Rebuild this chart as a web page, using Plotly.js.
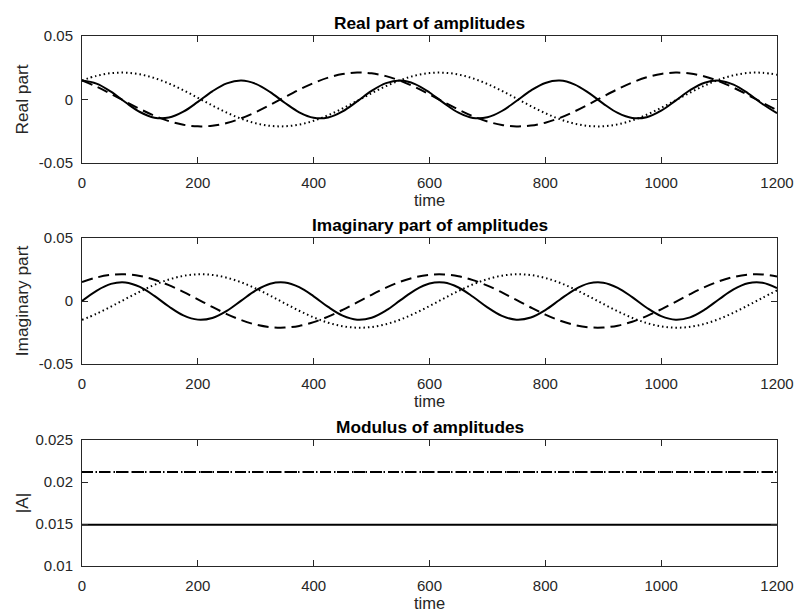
<!DOCTYPE html>
<html>
<head>
<meta charset="utf-8">
<script src="https://cdn.plot.ly/plotly-3.0.1.min.js"></script>
<style>html,body{margin:0;padding:0;background:#fff;}#chart{width:796px;height:616px;}</style>
</head>
<body>
<div id="chart"></div>
<script>
// ---- data ----
const times = [0,25,50,75,100,125,150,175,200,225,250,275,300,325,350,375,400,425,450,475,500,525,550,575,600,625,650,675,700,725,750,775,800,825,850,875,900,925,950,975,1000,1025,1050,1075,1100,1125,1150,1175,1200];

const realSolid = [0.0149,0.01252,0.00613,-0.00221,-0.00985,-0.01434,-0.01424,-0.00959,-0.00188,0.00644,0.01270,0.01490,0.01233,0.00582,-0.00255,-0.01011,-0.01443,-0.01414,-0.00933,-0.00153,0.00675,0.01288,0.01488,0.01213,0.00550,-0.00289,-0.01036,-0.01451,-0.01403,-0.00906,-0.00120,0.00705,0.01304,0.01486,0.01193,0.00519,-0.00322,-0.01060,-0.01458,-0.01391,-0.00879,-0.00085,0.00735,0.01321,0.01484,0.01172,0.00486,-0.00355,-0.01084];
const realDashed = [0.01499,0.01014,0.00446,-0.00158,-0.00749,-0.01279,-0.01705,-0.01992,-0.02116,-0.02067,-0.01850,-0.01482,-0.00993,-0.00423,0.00182,0.00772,0.01299,0.01720,0.02000,0.02117,0.02062,0.01838,0.01465,0.00971,0.00399,-0.00206,-0.00795,-0.01318,-0.01734,-0.02008,-0.02118,-0.02056,-0.01826,-0.01446,-0.00949,-0.00375,0.00230,0.00817,0.01338,0.01747,0.02016,0.02119,0.02050,0.01813,0.01429,0.00928,0.00351,-0.00254,-0.00839];
const realDotted = [0.01499,0.01862,0.02073,0.02114,0.01983,0.01690,0.01260,0.00727,0.00134,-0.00470,-0.01035,-0.01516,-0.01873,-0.02077,-0.02112,-0.01975,-0.01676,-0.01240,-0.00703,-0.00109,0.00494,0.01056,0.01533,0.01884,0.02082,0.02110,0.01965,0.01660,0.01220,0.00681,0.00085,-0.00517,-0.01078,-0.01550,-0.01896,-0.02087,-0.02107,-0.01956,-0.01645,-0.01200,-0.00658,-0.00061,0.00541,0.01098,0.01566,0.01906,0.02091,0.02105,0.01947];

const imagSolid = [0,0.00808,0.01358,0.01473,0.01118,0.00405,-0.00438,-0.01140,-0.01478,-0.01344,-0.00779,0.00034,0.00837,0.01372,0.01468,0.01095,0.00372,-0.00470,-0.01162,-0.01482,-0.01328,-0.00750,0.00068,0.00865,0.01385,0.01462,0.01071,0.00339,-0.00502,-0.01183,-0.01485,-0.01313,-0.00720,0.00102,0.00892,0.01397,0.01455,0.01047,0.00305,-0.00534,-0.01203,-0.01488,-0.01296,-0.00690,0.00137,0.00919,0.01408,0.01447,0.01023];
const imagDashed = [0.01499,0.01862,0.02073,0.02114,0.01983,0.01690,0.01260,0.00727,0.00134,-0.00470,-0.01035,-0.01516,-0.01873,-0.02077,-0.02112,-0.01975,-0.01676,-0.01240,-0.00703,-0.00109,0.00494,0.01056,0.01533,0.01884,0.02082,0.02110,0.01965,0.01660,0.01220,0.00681,0.00085,-0.00517,-0.01078,-0.01550,-0.01896,-0.02087,-0.02107,-0.01956,-0.01645,-0.01200,-0.00658,-0.00061,0.00541,0.01098,0.01566,0.01906,0.02091,0.02105,0.01947];
const imagDotted = [-0.01499,-0.01014,-0.00446,0.00158,0.00749,0.01279,0.01705,0.01992,0.02116,0.02067,0.01850,0.01482,0.00993,0.00423,-0.00182,-0.00772,-0.01299,-0.01720,-0.02000,-0.02117,-0.02062,-0.01838,-0.01465,-0.00971,-0.00399,0.00206,0.00795,0.01318,0.01734,0.02008,0.02118,0.02056,0.01826,0.01446,0.00949,0.00375,-0.00230,-0.00817,-0.01338,-0.01747,-0.02016,-0.02119,-0.02050,-0.01813,-0.01429,-0.00928,-0.00351,0.00254,0.00839];

const modTimes = [0, 1200];
const modSolid = [0.0149, 0.0149];
const modDashed = [0.0212, 0.0212];
const modDotted = [0.0212, 0.0212];

const xTicks = [0,200,400,600,800,1000,1200];
const xTickText = ['0','200','400','600','800','1000','1200'];
const yTicksRI = [-0.05, 0, 0.05];
const yTickTextRI = ['-0.05','0','0.05'];
const yTicksMod = [0.01, 0.015, 0.02, 0.025];
const yTickTextMod = ['0.01','0.015','0.02','0.025'];

const titles = ['Real part of amplitudes','Imaginary part of amplitudes','Modulus of amplitudes'];
const yLabels = ['Real part','Imaginary part','|A|'];
const xLabel = 'time';

// ---- styles ----
const FONT = 'Liberation Sans, Arial, Helvetica, sans-serif';
const AX = '#262626';
const solidLine = {color:'#000', width:2, dash:'solid', shape:'spline', smoothing:1};
const dashedLine = {color:'#000', width:2, dash:'11px,6px', shape:'spline', smoothing:1};
const dottedLine = {color:'#000', width:2, dash:'1.5px,3px', shape:'spline', smoothing:1};

function tr(x, y, line, xa, ya) {
  return {x:x, y:y, type:'scatter', mode:'lines', line:line, xaxis:xa, yaxis:ya, hoverinfo:'skip', showlegend:false};
}

const data = [
  tr(times, realSolid, solidLine, 'x', 'y'),
  tr(times, realDashed, dashedLine, 'x', 'y'),
  tr(times, realDotted, dottedLine, 'x', 'y'),
  tr(times, imagSolid, solidLine, 'x2', 'y2'),
  tr(times, imagDashed, dashedLine, 'x2', 'y2'),
  tr(times, imagDotted, dottedLine, 'x2', 'y2'),
  tr(modTimes, modSolid, Object.assign({}, solidLine, {shape:'linear'}), 'x3', 'y3'),
  tr(modTimes, modDashed, Object.assign({}, dashedLine, {shape:'linear'}), 'x3', 'y3'),
  tr(modTimes, modDotted, Object.assign({}, dottedLine, {shape:'linear'}), 'x3', 'y3')
];

const domains = [[0.7604, 1.0], [0.3811, 0.6189], [0.0, 0.2377]];

function xAxis(anchor) {
  return {
    anchor: anchor, domain:[0,1], range:[0,1200],
    tickmode:'array', tickvals:xTicks, ticktext:xTickText,
    ticks:'inside', ticklen:6, tickwidth:1, tickcolor:AX,
    showline:true, linecolor:AX, linewidth:1, mirror:'ticks',
    showgrid:false, zeroline:false,
    tickfont:{family:FONT, size:15, color:AX},
    ticklabelstandoff:6,
    title:{text:xLabel, font:{family:FONT, size:16.5, color:AX}, standoff:2},
    automargin:false, fixedrange:true
  };
}
function yAxis(anchor, dom, range, tv, tt, label, so) {
  return {
    anchor: anchor, domain:dom, range:range,
    tickmode:'array', tickvals:tv, ticktext:tt,
    ticks:'inside', ticklen:6, tickwidth:1, tickcolor:AX,
    showline:true, linecolor:AX, linewidth:1, mirror:'ticks',
    showgrid:false, zeroline:false,
    tickfont:{family:FONT, size:15, color:AX},
    ticklabelstandoff:5,
    title:{text:label, font:{family:FONT, size:17.3, color:AX}, standoff:so},
    automargin:false, fixedrange:true
  };
}

const annotations = titles.map((t, i) => ({
  text:'<b>' + t + '</b>', xref:'paper', yref:'paper', x:0.5, y:domains[i][1],
  xanchor:'center', yanchor:'bottom', yshift:1, showarrow:false,
  font:{family:FONT, size:17.3, color:'#000'}
}));

const layout = {
  width:796, height:616,
  margin:{l:82, r:19, t:36, b:50},
  paper_bgcolor:'#fff', plot_bgcolor:'#fff',
  showlegend:false,
  xaxis: xAxis('y'),
  yaxis: yAxis('x', domains[0], [-0.05,0.05], yTicksRI, yTickTextRI, yLabels[0], 5),
  xaxis2: xAxis('y2'),
  yaxis2: yAxis('x2', domains[1], [-0.05,0.05], yTicksRI, yTickTextRI, yLabels[1], 5),
  xaxis3: xAxis('y3'),
  yaxis3: yAxis('x3', domains[2], [0.01,0.025], yTicksMod, yTickTextMod, yLabels[2], 2),
  annotations: annotations
};

Plotly.newPlot('chart', data, layout, {staticPlot:true, displayModeBar:false});
</script>
</body>
</html>
